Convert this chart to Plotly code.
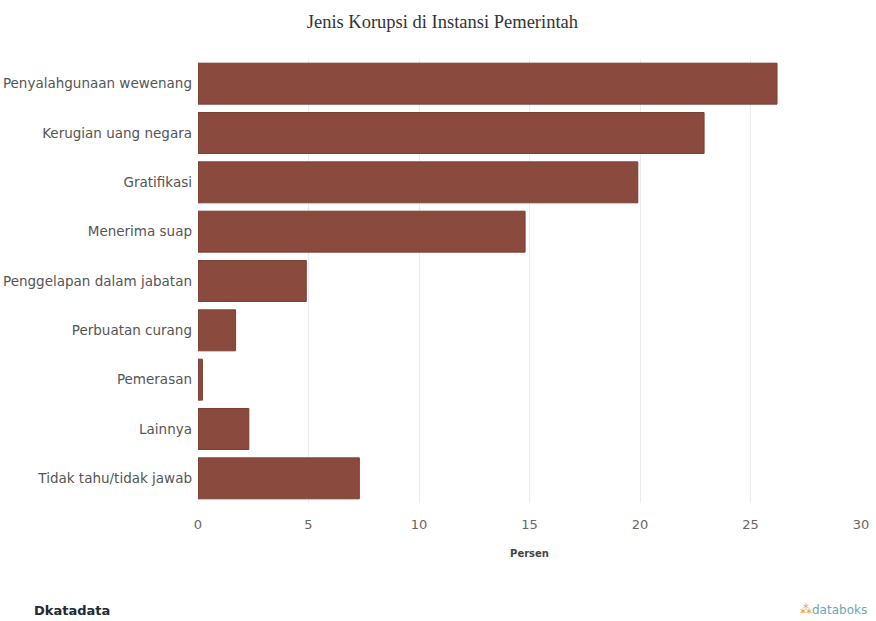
import plotly.graph_objects as go

categories = [
    "Penyalahgunaan wewenang",
    "Kerugian uang negara",
    "Gratifikasi",
    "Menerima suap",
    "Penggelapan dalam jabatan",
    "Perbuatan curang",
    "Pemerasan",
    "Lainnya",
    "Tidak tahu/tidak jawab",
]
values = [26.2, 22.9, 19.9, 14.8, 4.9, 1.7, 0.2, 2.3, 7.3]
x_ticks = [0, 5, 10, 15, 20, 25, 30]

bar_color = "#8b4a3e"

fig = go.Figure(
    go.Bar(
        x=values,
        y=categories,
        orientation="h",
        marker=dict(color=bar_color, line=dict(color="#7a3f34", width=1)),
        hoverinfo="x+y",
    )
)

fig.update_layout(
    width=876,
    height=621,
    margin=dict(l=198, r=15, t=59, b=118, autoexpand=False),
    paper_bgcolor="white",
    plot_bgcolor="white",
    bargap=0.17,
    showlegend=False,
    title=dict(
        text="Jenis Korupsi di Instansi Pemerintah",
        x=0.505,
        xanchor="center",
        y=0.965,
        yanchor="middle",
        font=dict(family="Liberation Serif, DejaVu Serif, serif", size=18.5, color="#333333"),
    ),
    font=dict(family="DejaVu Sans, Verdana, sans-serif", size=11, color="#555555"),
)

fig.update_xaxes(
    range=[0, 30],
    tickvals=x_ticks,
    ticktext=[str(t) for t in x_ticks],
    showgrid=True,
    gridcolor="#ececec",
    gridwidth=1,
    zeroline=False,
    showline=False,
    ticks="",
    automargin=False,
    ticklabelstandoff=12,
    tickfont=dict(size=13, color="#666666"),
    title=dict(text="<b>Persen</b>", font=dict(size=10, color="#444444"), standoff=18),
)

fig.update_yaxes(
    categoryorder="array",
    categoryarray=categories,
    autorange="reversed",
    showgrid=False,
    zeroline=False,
    showline=False,
    ticks="",
    automargin=False,
    ticklabelstandoff=5,
    tickfont=dict(size=13.5, color="#555555"),
)

fig.add_annotation(
    text="<b>D</b><b>katadata</b>",
    xref="paper", yref="paper",
    x=-0.25, y=-0.241, xanchor="left", yanchor="middle",
    showarrow=False,
    font=dict(family="DejaVu Sans, sans-serif", size=13, color="#222a36"),
)
fig.add_annotation(
    text="<span style='color:#e59b3a'>⁂</span>databoks",
    xref="paper", yref="paper",
    x=1.012, y=-0.241, xanchor="right", yanchor="middle",
    showarrow=False,
    font=dict(family="DejaVu Sans, sans-serif", size=12, color="#6aa8b0"),
)

fig.write_html("out.html")
